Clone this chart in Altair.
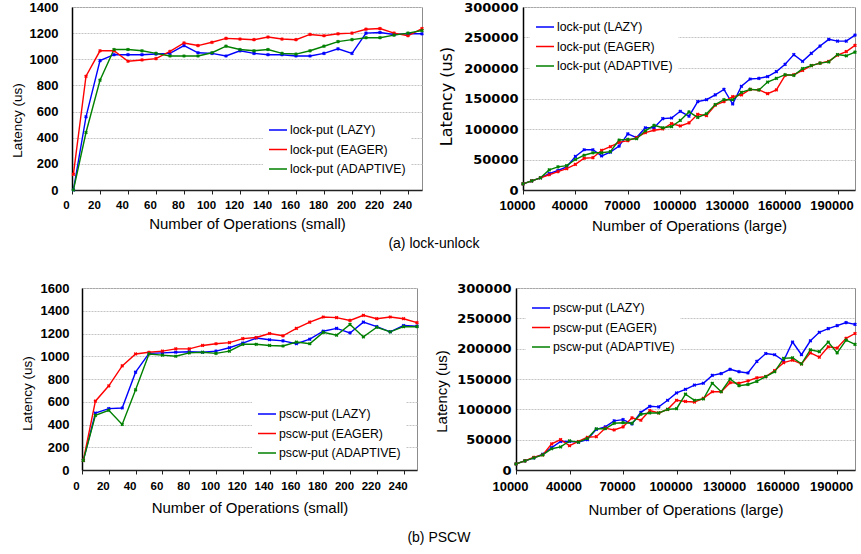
import altair as alt
import pandas as pd

SERIES = ["LAZY", "EAGER", "ADAPTIVE"]
COLORS = ["#0000ff", "#ff0000", "#008000"]

SANS = "Liberation Sans, Arial, sans-serif"
WIDE = "DejaVu Sans, sans-serif"

# x positions
SMALL_OPS = [1, 10, 20, 30, 40, 50, 60, 70, 80, 90, 100, 110, 120, 130, 140,
             150, 160, 170, 180, 190, 200, 210, 220, 230, 240, 250]
LARGE_OPS = [10000, 15000, 20000, 25000, 30000, 35000, 40000, 45000, 50000,
             55000, 60000, 65000, 70000, 75000, 80000, 85000, 90000, 95000,
             100000, 105000, 110000, 115000, 120000, 125000, 130000, 135000,
             140000, 145000, 150000, 155000, 160000, 165000, 170000, 175000,
             180000, 185000, 190000, 195000, 200000]

SMALL_TICKS = [0, 20, 40, 60, 80, 100, 120, 140, 160, 180, 200, 220, 240]
LARGE_TICKS = [10000, 40000, 70000, 100000, 130000, 160000, 190000]

# (a) lock-unlock, small
LOCK_SMALL_LAZY = [0, 560, 990, 1035, 1035, 1035, 1040, 1045, 1105, 1050, 1045,
                   1025, 1065, 1045, 1035, 1035, 1025, 1025, 1045, 1080, 1045,
                   1200, 1205, 1190, 1195, 1195]
LOCK_SMALL_EAGER = [120, 870, 1065, 1065, 985, 995, 1005, 1060, 1125, 1105, 1130,
                    1160, 1155, 1150, 1170, 1155, 1150, 1190, 1180, 1195, 1200,
                    1230, 1235, 1200, 1180, 1235]
LOCK_SMALL_ADAPTIVE = [0, 440, 840, 1075, 1075, 1065, 1045, 1025, 1025, 1025,
                       1050, 1100, 1075, 1065, 1075, 1045, 1040, 1065, 1100, 1135,
                       1150, 1165, 1165, 1185, 1200, 1220]

# (a) lock-unlock, large
LOCK_LARGE_LAZY = [10000, 15000, 20000, 27000, 32000, 38000, 55000, 66000, 66000,
                   56000, 62000, 72000, 92000, 86000, 102000, 102000, 117000,
                   118000, 129000, 121000, 145000, 148000, 156000, 165000,
                   141000, 170000, 182000, 183000, 186000, 194000, 206000,
                   222000, 211000, 224000, 236000, 247000, 244000, 244000,
                   254000]
LOCK_LARGE_EAGER = [10000, 15000, 20000, 25000, 30000, 35000, 42000, 52000, 53000,
                    65000, 71000, 78000, 81000, 86000, 94000, 98000, 100000,
                    109000, 105000, 110000, 124000, 122000, 139000, 145000,
                    153000, 156000, 165000, 164000, 158000, 164000, 188000,
                    189000, 196000, 204000, 208000, 211000, 221000, 227000,
                    237000]
LOCK_LARGE_ADAPTIVE = [10000, 15000, 20000, 33000, 38000, 40000, 50000, 57000,
                       61000, 61000, 63000, 82000, 83000, 84000, 97000, 106000,
                       102000, 104000, 114000, 128000, 119000, 125000, 140000,
                       148000, 148000, 160000, 165000, 164000, 177000, 183000,
                       189000, 188000, 199000, 204000, 208000, 210000, 222000,
                       220000, 226000]

# (b) PSCW, small
PSCW_SMALL_LAZY = [85, 500, 540, 545, 860, 1025, 1030, 1035, 1040, 1035, 1045,
                   1075, 1115, 1160, 1145, 1135, 1110, 1150, 1220, 1245, 1205,
                   1300, 1260, 1215, 1270, 1265]
PSCW_SMALL_EAGER = [85, 605, 740, 915, 1020, 1035, 1045, 1065, 1065, 1095, 1110,
                    1120, 1155, 1165, 1200, 1180, 1245, 1300, 1345, 1340, 1315,
                    1360, 1330, 1345, 1330, 1295]
PSCW_SMALL_ADAPTIVE = [85, 480, 525, 400, 705, 1020, 1010, 1000, 1030, 1035,
                       1025, 1045, 1105, 1105, 1095, 1090, 1125, 1110, 1210, 1185,
                       1280, 1170, 1255, 1215, 1260, 1260]

# (b) PSCW, large
PSCW_LARGE_LAZY = [10000, 15000, 20000, 26000, 37000, 47000, 47000, 46000, 50000,
                   67000, 71000, 81000, 83000, 76000, 95000, 105000, 104000,
                   115000, 127000, 133000, 140000, 143000, 156000, 159000,
                   166000, 162000, 160000, 179000, 192000, 190000, 180000,
                   211000, 190000, 213000, 227000, 233000, 238000, 243000,
                   240000]
PSCW_LARGE_EAGER = [10000, 15000, 21000, 25000, 43000, 50000, 40000, 47000, 54000,
                    55000, 69000, 66000, 71000, 86000, 82000, 98000, 94000,
                    100000, 115000, 113000, 112000, 118000, 129000, 129000,
                    144000, 143000, 147000, 152000, 154000, 164000, 177000,
                    181000, 175000, 193000, 186000, 203000, 201000, 217000,
                    225000]
PSCW_LARGE_ADAPTIVE = [10000, 15000, 20000, 25000, 35000, 38000, 48000, 46000,
                       52000, 68000, 68000, 77000, 78000, 77000, 92000, 94000,
                       94000, 100000, 101000, 125000, 115000, 117000, 143000,
                       129000, 150000, 139000, 141000, 146000, 154000, 162000,
                       184000, 185000, 175000, 198000, 195000, 211000, 193000,
                       214000, 207000]


def panel(prefix, ops, series_values, xdomain, xticks, ydomain, yticks,
          width, height, xlab_size, xlab_pad, xtitle_pad, ylab_font,
          ytitle_font, ytitle_size, ylab_pad, ytitle_xy, xtitle, legend_xy):
    names = [f"{prefix} ({s})" for s in SERIES]
    rows = []
    for name, vals in zip(names, series_values):
        for o, v in zip(ops, vals):
            rows.append({"ops": o, "latency": v, "series": name})
    df = pd.DataFrame(rows)

    x_axis = alt.Axis(
        values=xticks, format="d", grid=False,
        domainColor="#222222", domainWidth=1.5,
        ticks=True, tickColor="#222222", tickSize=4, tickWidth=1,
        labelFont=SANS, labelFontSize=xlab_size, labelFontWeight="bold",
        labelColor="#000000", labelOffset=-6, labelPadding=xlab_pad,
        labelOverlap=False, labelFlush=False,
        title=xtitle, titleFont=SANS, titleFontSize=15,
        titleFontWeight="normal", titleColor="#000000", titlePadding=xtitle_pad,
    )
    y_axis = alt.Axis(
        values=yticks, format="d", grid=True,
        gridColor="#c4c4c4", gridWidth=1, gridDash=[2, 1],
        domainColor="#000000", domainWidth=1.5, ticks=False,
        labelFont=ylab_font, labelFontSize=13, labelFontWeight="bold",
        labelColor="#000000", labelPadding=ylab_pad,
        title="Latency (us)", titleFont=ytitle_font, titleFontSize=ytitle_size,
        titleFontWeight="normal", titleColor="#000000",
        titleX=ytitle_xy[0], titleY=ytitle_xy[1],
    )
    legend = alt.Legend(
        title=None, orient="none", legendX=legend_xy[0], legendY=legend_xy[1],
        symbolType="stroke", symbolSize=324, symbolStrokeWidth=1.5,
        labelFont=SANS, labelFontSize=12.3, labelColor="#000000",
        labelOffset=2, rowPadding=2.5, padding=5, fillColor="#ffffff",
        labelLimit=300,
    )
    return alt.Chart(df).mark_line(
        strokeWidth=1.4,
        point=alt.OverlayMarkDef(shape="cross", angle=45, size=14, filled=True),
    ).encode(
        x=alt.X("ops:Q", scale=alt.Scale(domain=xdomain, nice=False, zero=False),
                axis=x_axis),
        y=alt.Y("latency:Q", scale=alt.Scale(domain=ydomain, nice=False),
                axis=y_axis),
        color=alt.Color("series:N", scale=alt.Scale(domain=names, range=COLORS),
                        legend=legend),
        order=alt.Order("ops:Q"),
    ).properties(width=width, height=height)


tl = panel("lock-put", SMALL_OPS,
           [LOCK_SMALL_LAZY, LOCK_SMALL_EAGER, LOCK_SMALL_ADAPTIVE],
           [0, 250], SMALL_TICKS, [0, 1400], list(range(0, 1401, 200)),
           350, 183, 11.5, 5, 6, SANS, SANS, 13.5, 14,
           (-48, 113), "Number of Operations (small)", (191, 108))
tr = panel("lock-put", LARGE_OPS,
           [LOCK_LARGE_LAZY, LOCK_LARGE_EAGER, LOCK_LARGE_ADAPTIVE],
           [10000, 200000], LARGE_TICKS, [0, 300000],
           list(range(0, 300001, 50000)),
           332, 183, 13, 5, 6, WIDE, WIDE, 16, 5,
           (-69, 89), "Number of Operations (large)", (7, 5))
bl = panel("pscw-put", SMALL_OPS,
           [PSCW_SMALL_LAZY, PSCW_SMALL_EAGER, PSCW_SMALL_ADAPTIVE],
           [0, 250], SMALL_TICKS, [0, 1600], list(range(0, 1601, 200)),
           335, 182, 11.5, 6, 9, SANS, SANS, 13.5, 13,
           (-48, 105), "Number of Operations (small)", (170, 111))
br = panel("pscw-put", LARGE_OPS,
           [PSCW_LARGE_LAZY, PSCW_LARGE_EAGER, PSCW_LARGE_ADAPTIVE],
           [10000, 200000], LARGE_TICKS, [0, 300000],
           list(range(0, 300001, 50000)),
           339, 182, 13, 6, 9, WIDE, SANS, 15, 5,
           (-67, 103), "Number of Operations (large)", (10, 5))

# empty, invisible cell that indents the lower row a little
indent = alt.Chart(pd.DataFrame({"v": [0]})).mark_point(opacity=0).encode(
    x=alt.value(0), y=alt.value(0)
).properties(width=10, height=10,
             view=alt.ViewBackground(stroke="transparent"))


def caption(text, offset):
    return alt.TitleParams(text, orient="bottom", anchor="middle", font=SANS,
                           fontSize=14, fontWeight="normal", color="#000000",
                           offset=offset)


top = alt.hconcat(tl, tr, spacing=101, bounds="flush",
                  title=caption("(a) lock-unlock", 3)) \
    .resolve_scale(color="independent").resolve_legend(color="independent")
bottom_pair = alt.hconcat(bl, br, spacing=99, bounds="flush") \
    .resolve_scale(color="independent").resolve_legend(color="independent")
bottom = alt.hconcat(indent, bottom_pair, spacing=0, bounds="flush",
                     title=caption("(b) PSCW", 13)) \
    .resolve_scale(color="independent").resolve_legend(color="independent")

chart = alt.vconcat(top, bottom, spacing=30) \
    .resolve_scale(color="independent").resolve_legend(color="independent") \
    .properties(padding={"left": 9, "top": 0, "right": 0, "bottom": 0}) \
    .configure(background="#ffffff") \
    .configure_view(stroke="#8c8c8c", strokeWidth=1)

chart.save("out.html", embed_options={"renderer": "svg", "actions": False})
